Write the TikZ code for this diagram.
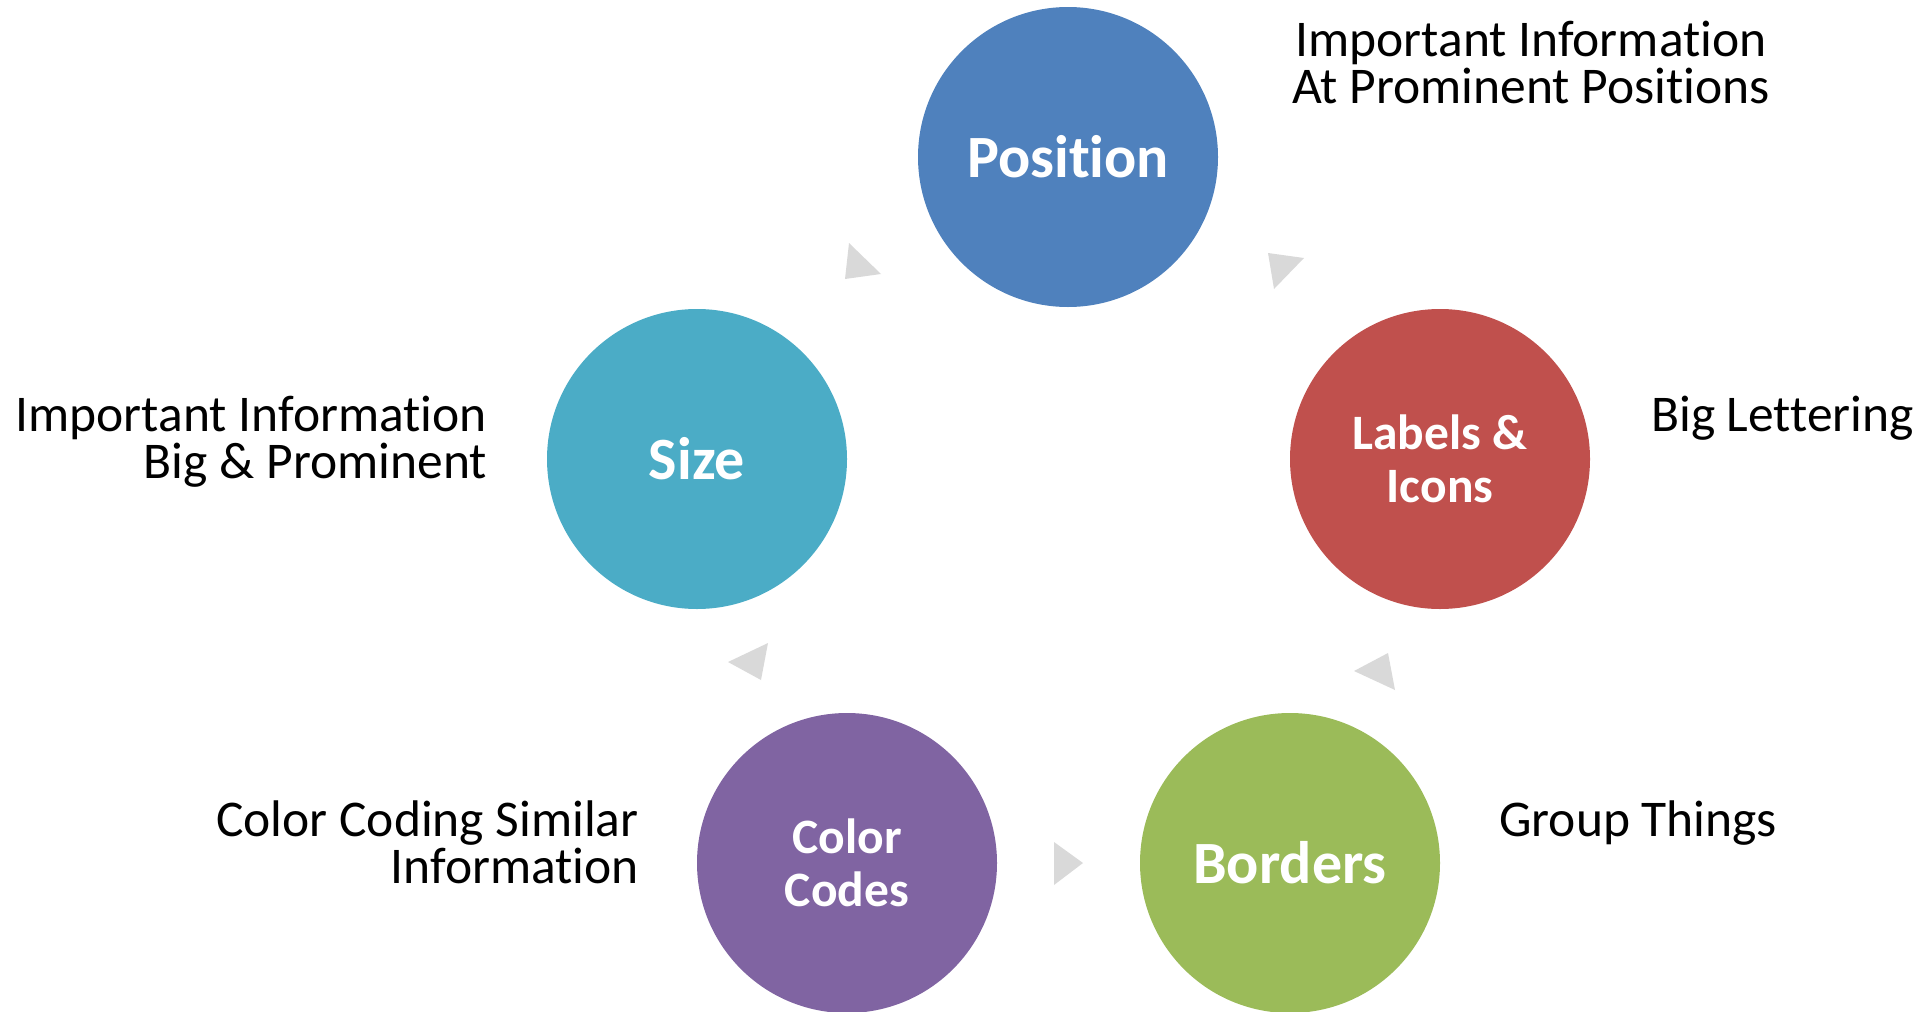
\documentclass[tikz,border=0pt]{standalone}
\usepackage{fontspec}
\setmainfont[Ligatures={NoCommon}]{Carlito}
\definecolor{posblue}{HTML}{4F81BD}
\definecolor{sizeteal}{HTML}{4BACC6}
\definecolor{labred}{HTML}{C0504D}
\definecolor{ccpurple}{HTML}{8064A2}
\definecolor{bordgreen}{HTML}{9BBB59}
\definecolor{arrowgray}{HTML}{D9D9D9}
\begin{document}
\begin{tikzpicture}[x=1pt,y=-1pt,
  bub/.style={circle, fill=#1, minimum size=300pt, inner sep=0pt, text=white,
    font=\fontsize{60}{62}\selectfont\bfseries, align=center},
  bubsmall/.style={bub=#1, font=\fontsize{49.5}{53}\selectfont\bfseries},
  note/.style={font=\fontsize{51.5}{47}\selectfont, inner sep=0pt, text=black},
  tri/.style={fill=arrowgray, draw=none}]
\useasboundingbox (0,0) rectangle (1925,1012);

% circles
\node[bub=posblue]   (pos)  at (1068,157) {Position};
\node[bub=sizeteal]  (size) at (697,459)  {Size};
\node[bubsmall=labred]   (lab)  at (1440,459) {Labels \&\\Icons};
\node[bubsmall=ccpurple] (cc)   at (847,863)  {Color\\Codes};
\node[bub=bordgreen] (bord) at (1290,863) {Borders};

% cycle arrowheads
\fill[tri] (849,243) -- (881,274) -- (845,279) -- cycle;
\fill[tri] (1268,253) -- (1304,258) -- (1274,289) -- cycle;
\fill[tri] (1388,653) -- (1354,671) -- (1395,690) -- cycle;
\fill[tri] (1054,842) -- (1083,863) -- (1054,885) -- cycle;
\fill[tri] (768,643) -- (728,662) -- (761,680) -- cycle;

% notes
\node[note, align=center, anchor=north] (tpos) at (1531,21)
  {Important Information\\At Prominent Positions};
\node[note, align=right, anchor=north east] (tsize) at (487,396)
  {Important Information\\Big \& Prominent};
\node[note, anchor=base west] (tlab) at (1651,431) {Big Lettering};
\node[note, align=right, anchor=north east] (tcc) at (639,801)
  {Color Coding Similar\\Information};
\node[note, anchor=base west] (tbord) at (1499,836) {Group Things};
\end{tikzpicture}
\end{document}
